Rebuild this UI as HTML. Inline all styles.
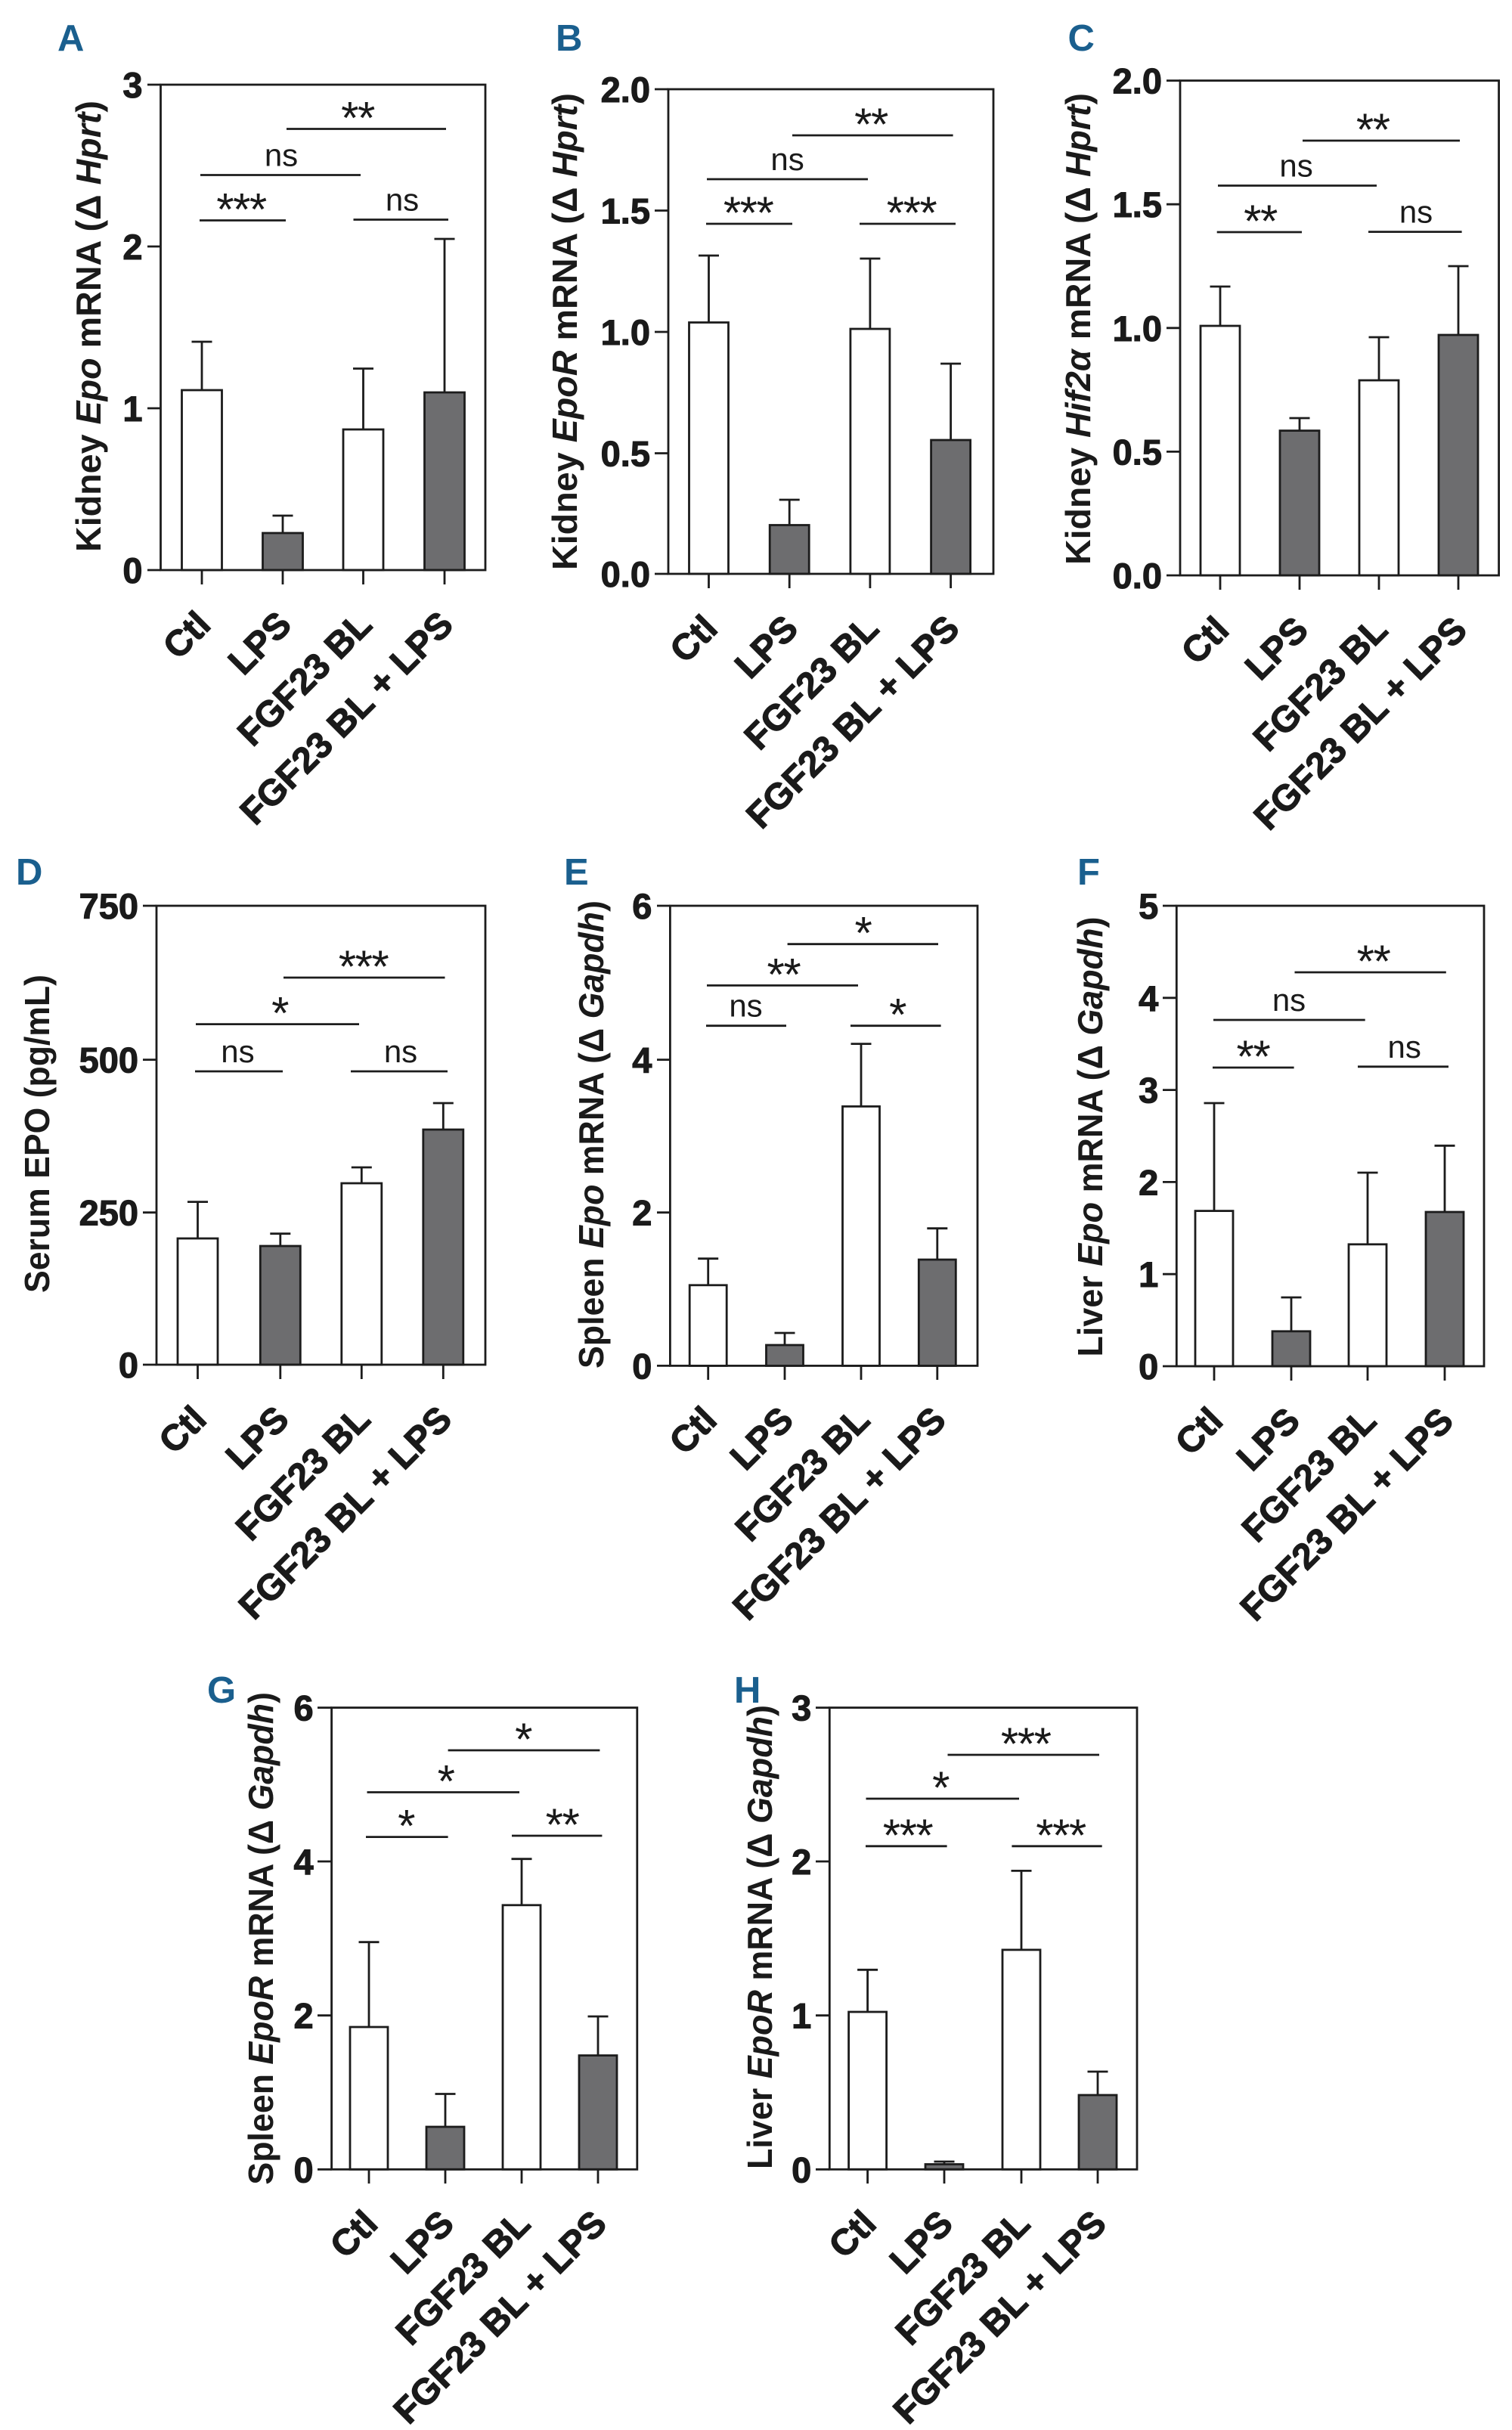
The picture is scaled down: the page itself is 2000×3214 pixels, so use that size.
<!DOCTYPE html>
<html><head><meta charset="utf-8"><style>
html,body{margin:0;padding:0;background:#fff}
svg{display:block}
.t{font-family:"Liberation Sans",sans-serif;font-weight:bold;font-size:47px;fill:#1a1a1a;stroke:#1a1a1a;stroke-width:1.1;text-anchor:end}
.xl{font-family:"Liberation Sans",sans-serif;font-weight:bold;font-size:48px;fill:#1a1a1a;stroke:#1a1a1a;stroke-width:1.2;text-anchor:end}
.ns{font-family:"Liberation Sans",sans-serif;font-size:42px;fill:#1a1a1a;text-anchor:middle}
.ast{font-family:"Liberation Sans",sans-serif;font-size:60px;fill:#1a1a1a;text-anchor:middle;letter-spacing:-1.5px}
.yl{font-family:"Liberation Sans Narrow","Liberation Sans",sans-serif;font-weight:bold;font-size:46px;fill:#1a1a1a}
.pl{font-family:"Liberation Sans Narrow","Liberation Sans",sans-serif;font-weight:bold;font-size:49px;fill:#1a5f8e}
.ln{stroke:#1c1c1c;stroke-width:2.8;fill:none}
.w{fill:#fff;stroke:#1c1c1c;stroke-width:2.8}
.g{fill:#6d6d6f;stroke:#1c1c1c;stroke-width:2.8}
</style></head><body>
<svg width="2000" height="3214" viewBox="0 0 2000 3214" xmlns="http://www.w3.org/2000/svg">

<!-- ================= PANEL A ================= -->
<text class="pl" x="76" y="67">A</text>
<g class="ln">
<rect class="w" x="240.5" y="516" width="53" height="238"/>
<rect class="g" x="347.5" y="705" width="53" height="49"/>
<rect class="w" x="454" y="568" width="53" height="186"/>
<rect class="g" x="561.5" y="519" width="53" height="235"/>
<path d="M267 516V452M253.5 452H280.5 M374 705V682M360.5 682H387.5 M480.5 568V487.5M467 487.5H494 M588 519V316M574.5 316H601.5"/>
<rect x="212.5" y="112" width="429.5" height="642"/>
<path d="M195 112H212.5M195 326H212.5M195 540H212.5M195 754H212.5"/>
<path d="M267 754V773M374 754V773M480.5 754V773M588 754V773"/>
<path d="M379 170.5H590M265 231.5H477M264 291.5H378M467.5 290.5H593"/>
</g>
<text class="t" x="188.5" y="129">3</text>
<text class="t" x="188.5" y="343">2</text>
<text class="t" x="188.5" y="557">1</text>
<text class="t" x="188.5" y="771">0</text>
<text class="ast" x="473" y="176.5">**</text>
<text class="ns" x="372" y="219.5">ns</text>
<text class="ast" x="319" y="297.5">***</text>
<text class="ns" x="532" y="278.5">ns</text>
<text class="xl" transform="translate(281,829) rotate(-45)">Ctl</text>
<text class="xl" transform="translate(388,829) rotate(-45)">LPS</text>
<text class="xl" transform="translate(494.5,829) rotate(-45)">FGF23 BL</text>
<text class="xl" transform="translate(602,829) rotate(-45)">FGF23 BL + LPS</text>
<text class="yl" transform="translate(133,730) rotate(-90)" textLength="597" lengthAdjust="spacingAndGlyphs">Kidney <tspan font-style="italic">Epo</tspan> mRNA (Δ <tspan font-style="italic">Hprt</tspan>)</text>

<!-- ================= PANEL B ================= -->
<text class="pl" x="735" y="67">B</text>
<g class="ln">
<rect class="w" x="911.5" y="426.5" width="52" height="332.5"/>
<rect class="g" x="1018.2" y="694.5" width="52" height="64.5"/>
<rect class="w" x="1124.9" y="435" width="52" height="324"/>
<rect class="g" x="1231.6" y="582" width="52" height="177"/>
<path d="M937.5 426.5V338M924 338H951 M1044.2 694.5V661M1030.7 661H1057.7 M1150.9 435V342M1137.4 342H1164.4 M1257.6 582V481M1244.1 481H1271.1"/>
<rect x="884" y="118" width="430" height="641"/>
<path d="M866 118H884M866 278.5H884M866 439H884M866 599.5H884M866 759H884"/>
<path d="M937.5 759V778M1044.2 759V778M1150.9 759V778M1257.6 759V778"/>
<path d="M1048 179H1260.6M935 237H1148M934 296H1048M1137 296H1264"/>
</g>
<text class="t" x="860" y="135">2.0</text>
<text class="t" x="860" y="295.5">1.5</text>
<text class="t" x="860" y="456">1.0</text>
<text class="t" x="860" y="616.5">0.5</text>
<text class="t" x="860" y="776">0.0</text>
<text class="ast" x="1152" y="185">**</text>
<text class="ns" x="1041.6" y="225">ns</text>
<text class="ast" x="989.6" y="302">***</text>
<text class="ast" x="1205.5" y="302">***</text>
<text class="xl" transform="translate(951.5,834) rotate(-45)">Ctl</text>
<text class="xl" transform="translate(1058.2,834) rotate(-45)">LPS</text>
<text class="xl" transform="translate(1164.9,834) rotate(-45)">FGF23 BL</text>
<text class="xl" transform="translate(1271.6,834) rotate(-45)">FGF23 BL + LPS</text>
<text class="yl" transform="translate(763,754) rotate(-90)" textLength="631" lengthAdjust="spacingAndGlyphs">Kidney <tspan font-style="italic">EpoR</tspan> mRNA (Δ <tspan font-style="italic">Hprt</tspan>)</text>

<!-- ================= PANEL C ================= -->
<text class="pl" x="1412.5" y="67">C</text>
<g class="ln">
<rect class="w" x="1588" y="431" width="52" height="330"/>
<rect class="g" x="1693" y="569.6" width="52" height="191.4"/>
<rect class="w" x="1798" y="503" width="52" height="258"/>
<rect class="g" x="1903" y="443" width="52" height="318"/>
<path d="M1614 431V379M1600.5 379H1627.5 M1719 569.6V553M1705.5 553H1732.5 M1824 503V446M1810.5 446H1837.5 M1929 443V352M1915.5 352H1942.5"/>
<rect x="1561" y="106.6" width="421.6" height="654.4"/>
<path d="M1543 106.6H1561M1543 270.2H1561M1543 433.8H1561M1543 597.4H1561M1543 761H1561"/>
<path d="M1614 761V780M1719 761V780M1824 761V780M1929 761V780"/>
<path d="M1723 186H1931M1611 245.5H1821M1609.7 307H1722M1810 306.6H1933.6"/>
</g>
<text class="t" x="1537" y="123.6">2.0</text>
<text class="t" x="1537" y="287.2">1.5</text>
<text class="t" x="1537" y="450.8">1.0</text>
<text class="t" x="1537" y="614.4">0.5</text>
<text class="t" x="1537" y="778">0.0</text>
<text class="ast" x="1815.7" y="192">**</text>
<text class="ns" x="1714.6" y="233.5">ns</text>
<text class="ast" x="1667" y="313">**</text>
<text class="ns" x="1873" y="294.6">ns</text>
<text class="xl" transform="translate(1628,836) rotate(-45)">Ctl</text>
<text class="xl" transform="translate(1733,836) rotate(-45)">LPS</text>
<text class="xl" transform="translate(1838,836) rotate(-45)">FGF23 BL</text>
<text class="xl" transform="translate(1943,836) rotate(-45)">FGF23 BL + LPS</text>
<text class="yl" transform="translate(1442,747) rotate(-90)" textLength="624" lengthAdjust="spacingAndGlyphs">Kidney <tspan font-style="italic">Hif2α</tspan> mRNA (Δ <tspan font-style="italic">Hprt</tspan>)</text>

<!-- ================= PANEL D ================= -->
<text class="pl" x="21" y="1170">D</text>
<g class="ln">
<rect class="w" x="235" y="1638" width="53" height="167"/>
<rect class="g" x="344.3" y="1648" width="53" height="157"/>
<rect class="w" x="451.8" y="1565" width="53" height="240"/>
<rect class="g" x="559.8" y="1494" width="53" height="311"/>
<path d="M261.5 1638V1589.6M248 1589.6H275 M370.8 1648V1631.7M357.3 1631.7H384.3 M478.3 1565V1544M464.8 1544H491.8 M586.3 1494V1459M572.8 1459H599.8"/>
<rect x="207" y="1198" width="435" height="607"/>
<path d="M189 1198H207M189 1401.6H207M189 1603.7H207M189 1805H207"/>
<path d="M261.5 1805V1824M370.8 1805V1824M478.3 1805V1824M586.3 1805V1824"/>
<path d="M375 1293H588.5M259 1354.6H475M258 1417H374M464 1417H592"/>
</g>
<text class="t" x="183" y="1215">750</text>
<text class="t" x="183" y="1418.6">500</text>
<text class="t" x="183" y="1620.7">250</text>
<text class="t" x="183" y="1822">0</text>
<text class="ast" x="480.5" y="1299">***</text>
<text class="ast" x="370" y="1360.6">*</text>
<text class="ns" x="314.4" y="1405">ns</text>
<text class="ns" x="530" y="1405">ns</text>
<text class="xl" transform="translate(275.5,1880) rotate(-45)">Ctl</text>
<text class="xl" transform="translate(384.8,1880) rotate(-45)">LPS</text>
<text class="xl" transform="translate(492.3,1880) rotate(-45)">FGF23 BL</text>
<text class="xl" transform="translate(600.3,1880) rotate(-45)">FGF23 BL + LPS</text>
<text class="yl" transform="translate(65,1710) rotate(-90)" textLength="421" lengthAdjust="spacingAndGlyphs">Serum EPO (pg/mL)</text>

<!-- ================= PANEL E ================= -->
<text class="pl" x="746" y="1170">E</text>
<g class="ln">
<rect class="w" x="912.2" y="1699.8" width="49" height="106.6"/>
<rect class="g" x="1013.5" y="1779" width="49" height="27.4"/>
<rect class="w" x="1114.5" y="1463.4" width="49" height="343"/>
<rect class="g" x="1215.3" y="1666" width="49" height="140.4"/>
<path d="M936.7 1699.8V1664.7M923.2 1664.7H950.2 M1038 1779V1763M1024.5 1763H1051.5 M1139 1463.4V1380.6M1125.5 1380.6H1152.5 M1239.8 1666V1624.7M1226.3 1624.7H1253.3"/>
<rect x="886.4" y="1198" width="406.6" height="608.4"/>
<path d="M869 1198H886.4M869 1401.6H886.4M869 1603.7H886.4M869 1806.4H886.4"/>
<path d="M936.7 1806.4V1825M1038 1806.4V1825M1139 1806.4V1825M1239.8 1806.4V1825"/>
<path d="M1041.6 1248.7H1241M935 1303.4H1135M934 1356.7H1040M1125 1356.7H1244.6"/>
</g>
<text class="t" x="862.4" y="1215">6</text>
<text class="t" x="862.4" y="1418.6">4</text>
<text class="t" x="862.4" y="1620.7">2</text>
<text class="t" x="862.4" y="1823.4">0</text>
<text class="ast" x="1141.4" y="1254.7">*</text>
<text class="ast" x="1036.4" y="1309.4">**</text>
<text class="ns" x="986.5" y="1344.7">ns</text>
<text class="ast" x="1187" y="1362.7">*</text>
<text class="xl" transform="translate(950.7,1881) rotate(-45)">Ctl</text>
<text class="xl" transform="translate(1052,1881) rotate(-45)">LPS</text>
<text class="xl" transform="translate(1153,1881) rotate(-45)">FGF23 BL</text>
<text class="xl" transform="translate(1253.8,1881) rotate(-45)">FGF23 BL + LPS</text>
<text class="yl" transform="translate(798,1810) rotate(-90)" textLength="619" lengthAdjust="spacingAndGlyphs">Spleen <tspan font-style="italic">Epo</tspan> mRNA (Δ <tspan font-style="italic">Gapdh</tspan>)</text>

<!-- ================= PANEL F ================= -->
<text class="pl" x="1425" y="1170">F</text>
<g class="ln">
<rect class="w" x="1581" y="1601.6" width="50" height="205.4"/>
<rect class="g" x="1683" y="1760.8" width="50" height="46.2"/>
<rect class="w" x="1784" y="1645.8" width="50" height="161.2"/>
<rect class="g" x="1886" y="1603" width="50" height="204"/>
<path d="M1606 1601.6V1459M1592.5 1459H1619.5 M1708 1760.8V1716M1694.5 1716H1721.5 M1809 1645.8V1551M1795.5 1551H1822.5 M1911 1603V1515.3M1897.5 1515.3H1924.5"/>
<rect x="1556.3" y="1198" width="406.7" height="609"/>
<path d="M1538 1198H1556.3M1538 1319.8H1556.3M1538 1441.6H1556.3M1538 1563.4H1556.3M1538 1685.2H1556.3M1538 1807H1556.3"/>
<path d="M1606 1807V1826M1708 1807V1826M1809 1807V1826M1911 1807V1826"/>
<path d="M1712.5 1286H1912.8M1605 1349H1805.7M1604 1412H1711.6M1796 1410.8H1916"/>
</g>
<text class="t" x="1532.3" y="1215">5</text>
<text class="t" x="1532.3" y="1336.8">4</text>
<text class="t" x="1532.3" y="1458.6">3</text>
<text class="t" x="1532.3" y="1580.4">2</text>
<text class="t" x="1532.3" y="1702.2">1</text>
<text class="t" x="1532.3" y="1824">0</text>
<text class="ast" x="1816.5" y="1292">**</text>
<text class="ns" x="1705" y="1337">ns</text>
<text class="ast" x="1657.4" y="1418">**</text>
<text class="ns" x="1857.7" y="1398.8">ns</text>
<text class="xl" transform="translate(1620,1882) rotate(-45)">Ctl</text>
<text class="xl" transform="translate(1722,1882) rotate(-45)">LPS</text>
<text class="xl" transform="translate(1823,1882) rotate(-45)">FGF23 BL</text>
<text class="xl" transform="translate(1925,1882) rotate(-45)">FGF23 BL + LPS</text>
<text class="yl" transform="translate(1458,1794.5) rotate(-90)" textLength="582" lengthAdjust="spacingAndGlyphs">Liver <tspan font-style="italic">Epo</tspan> mRNA (Δ <tspan font-style="italic">Gapdh</tspan>)</text>

<!-- ================= PANEL G ================= -->
<text class="pl" x="274" y="2252">G</text>
<g class="ln">
<rect class="w" x="463" y="2681" width="50" height="188.3"/>
<rect class="g" x="564" y="2813" width="50" height="56.3"/>
<rect class="w" x="665" y="2519.8" width="50" height="349.5"/>
<rect class="g" x="766" y="2718.6" width="50" height="150.7"/>
<path d="M488 2681V2568.7M474.5 2568.7H501.5 M589 2813V2769.5M575.5 2769.5H602.5 M690 2519.8V2458.7M676.5 2458.7H703.5 M791 2718.6V2667M777.5 2667H804.5"/>
<rect x="438.6" y="2258.6" width="404.2" height="610.7"/>
<path d="M420 2258.6H438.6M420 2462H438.6M420 2665.7H438.6M420 2869.3H438.6"/>
<path d="M488 2869.3V2888M589 2869.3V2888M690 2869.3V2888M791 2869.3V2888"/>
<path d="M592.6 2315H793.4M485.5 2370.5H687M484 2429.6H592.6M677 2428H796.4"/>
</g>
<text class="t" x="414.6" y="2275.6">6</text>
<text class="t" x="414.6" y="2479">4</text>
<text class="t" x="414.6" y="2682.7">2</text>
<text class="t" x="414.6" y="2886.3">0</text>
<text class="ast" x="692" y="2321">*</text>
<text class="ast" x="589.5" y="2376.5">*</text>
<text class="ast" x="537" y="2435.6">*</text>
<text class="ast" x="743.5" y="2434">**</text>
<text class="xl" transform="translate(502,2944) rotate(-45)">Ctl</text>
<text class="xl" transform="translate(603,2944) rotate(-45)">LPS</text>
<text class="xl" transform="translate(704,2944) rotate(-45)">FGF23 BL</text>
<text class="xl" transform="translate(805,2944) rotate(-45)">FGF23 BL + LPS</text>
<text class="yl" transform="translate(361,2889.6) rotate(-90)" textLength="651.6" lengthAdjust="spacingAndGlyphs">Spleen <tspan font-style="italic">EpoR</tspan> mRNA (Δ <tspan font-style="italic">Gapdh</tspan>)</text>

<!-- ================= PANEL H ================= -->
<text class="pl" x="971" y="2252">H</text>
<g class="ln">
<rect class="w" x="1122.6" y="2661" width="50" height="208.3"/>
<rect class="g" x="1224" y="2862.5" width="50" height="6.8"/>
<rect class="w" x="1326" y="2578.9" width="50" height="290.4"/>
<rect class="g" x="1427" y="2771" width="50" height="98.3"/>
<path d="M1147.6 2661V2605.3M1134.1 2605.3H1161.1 M1249 2862.5V2859M1235.5 2859H1262.5 M1351 2578.9V2474.4M1337.5 2474.4H1364.5 M1452 2771V2740M1438.5 2740H1465.5"/>
<rect x="1097.3" y="2258.6" width="406.7" height="610.7"/>
<path d="M1079 2258.6H1097.3M1079 2462H1097.3M1079 2665.7H1097.3M1079 2869.3H1097.3"/>
<path d="M1147.6 2869.3V2888M1249 2869.3V2888M1351 2869.3V2888M1452 2869.3V2888"/>
<path d="M1253.5 2321H1454M1145.5 2379H1348M1145 2441.8H1252.6M1338.4 2441.8H1457.7"/>
</g>
<text class="t" x="1073.3" y="2275.6">3</text>
<text class="t" x="1073.3" y="2479">2</text>
<text class="t" x="1073.3" y="2682.7">1</text>
<text class="t" x="1073.3" y="2886.3">0</text>
<text class="ast" x="1356.7" y="2327">***</text>
<text class="ast" x="1244" y="2385">*</text>
<text class="ast" x="1200.5" y="2447.8">***</text>
<text class="ast" x="1403" y="2447.8">***</text>
<text class="xl" transform="translate(1161.6,2944) rotate(-45)">Ctl</text>
<text class="xl" transform="translate(1263,2944) rotate(-45)">LPS</text>
<text class="xl" transform="translate(1365,2944) rotate(-45)">FGF23 BL</text>
<text class="xl" transform="translate(1466,2944) rotate(-45)">FGF23 BL + LPS</text>
<text class="yl" transform="translate(1021,2869) rotate(-90)" textLength="614" lengthAdjust="spacingAndGlyphs">Liver <tspan font-style="italic">EpoR</tspan> mRNA (Δ <tspan font-style="italic">Gapdh</tspan>)</text>

</svg>
</body></html>
